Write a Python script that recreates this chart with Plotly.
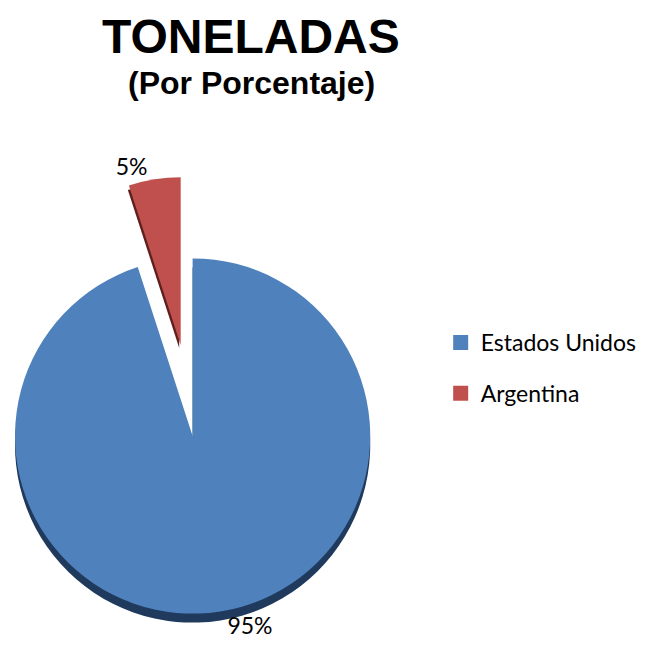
import plotly.graph_objects as go

labels = ["Estados Unidos", "Argentina"]
values = [95, 5]
colors = ["#4F81BD", "#C0504D"]
shadow_colors = ["#1F3A5C", "#5E1F1D"]
title_text = "TONELADAS"
subtitle_text = "(Por Porcentaje)"

W, H = 650, 655
OX, OY = 9, 9  # page offset compensation
R = 179
blue_c = (190 - OX, 437 - OY)
red_c = (168 - OX, 346 - OY)


def dom(cx, cy, r):
    return dict(x=[max(0, (cx - r) / W), min(1, (cx + r) / W)],
                y=[max(0, 1 - (cy + r) / H), min(1, 1 - (cy - r) / H)])


def pie(center, cols, texts, show_text=True):
    return go.Pie(
        labels=labels, values=values, sort=False, direction="clockwise",
        rotation=0, domain=dom(*center, R),
        marker=dict(colors=cols, line=dict(width=0)),
        texttemplate=texts if show_text else None,
        textinfo="none" if not show_text else None,
        textposition="outside",
        textfont=dict(family="Lato", size=23, color="#000000"),
        showlegend=False, hoverinfo="label+percent",
    )


T = "rgba(0,0,0,0)"
fig = go.Figure()
# 3D-like rim (shadow) pies
fig.add_trace(pie((blue_c[0], blue_c[1] + 9), [shadow_colors[0], T], None, False))
fig.add_trace(pie((red_c[0] - 3, red_c[1] + 3), [T, shadow_colors[1]], None, False))
# main faces
fig.add_trace(pie(blue_c, [colors[0], T], ["%{percent:.0%}", ""]))
fig.add_trace(pie(red_c, [T, colors[1]], ["", "%{percent:.0%}"]))

# legend entries
for i, (lab, col) in enumerate(zip(labels, colors)):
    fig.add_trace(go.Scatter(x=[None], y=[None], mode="markers", name=lab,
                             legendgroup=f"g{i}",
                             marker=dict(symbol="square", size=15, color=col)))

fig.update_layout(
    width=W, height=H, margin=dict(l=0, r=0, t=0, b=0),
    paper_bgcolor="white", plot_bgcolor="white",
    xaxis=dict(visible=False), yaxis=dict(visible=False),
    legend=dict(x=431 / W, xanchor="left", y=1 - 313 / H, yanchor="top",
                font=dict(family="Lato", size=23, color="#000000"),
                tracegroupgap=18, bgcolor="rgba(0,0,0,0)"),
    annotations=[
        dict(text=f"<b>{title_text}</b>", x=(249 - OX) / W, y=1 - (37 - OY) / H, xref="paper", yref="paper",
             showarrow=False, xanchor="center", yanchor="middle",
             font=dict(family="Liberation Sans", size=48, color="#000000")),
        dict(text=f"<b>{subtitle_text}</b>", x=(249 - OX) / W, y=1 - (84 - OY) / H, xref="paper", yref="paper",
             showarrow=False, xanchor="center", yanchor="middle",
             font=dict(family="Liberation Sans", size=32, color="#000000")),
    ],
)

fig.write_html("out.html")
